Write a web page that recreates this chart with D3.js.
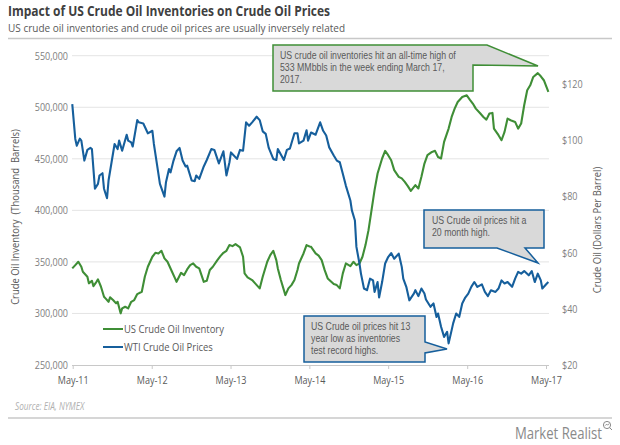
<!DOCTYPE html>
<html>
<head>
<meta charset="utf-8">
<script src="https://cdnjs.cloudflare.com/ajax/libs/d3/7.8.5/d3.min.js"></script>
<style>
  body { margin: 0; background: #fff; }
  svg { display: block; font-family: "Open Sans", sans-serif; }
</style>
</head>
<body>
<svg id="chart" width="620" height="445"></svg>
<script>
// weekly series, week 0 = 2011-04-29
const startDate = new Date(2011, 3, 29);

const invWeek = [
  0, 2, 4, 6, 7, 10, 11, 13, 14, 16,
  17, 19, 21, 22, 24, 25, 27, 29, 30, 32,
  33, 35, 37, 39, 41, 43, 46, 48, 50, 53,
  55, 57, 59, 61, 63, 66, 68, 69, 72, 74,
  76, 78, 80, 82, 84, 87, 89, 91, 93, 96,
  98, 100, 102, 104, 106, 108, 111, 113, 114, 116,
  119, 121, 124, 126, 129, 131, 133, 135, 136, 138,
  141, 143, 145, 147, 149, 150, 153, 155, 157, 158,
  161, 163, 165, 167, 169, 173, 175, 177, 179, 181,
  184, 186, 188, 190, 192, 194, 196, 198, 200, 202,
  205, 207, 209, 211, 213, 216, 218, 220, 222, 224,
  227, 229, 231, 233, 235, 238, 240, 242, 244, 246,
  249, 251, 253, 255, 258, 261, 263, 265, 267, 270,
  272, 274, 276, 278, 279, 282, 284, 286, 288, 290,
  293, 295, 297, 299, 301, 303, 305, 308, 310, 312,
  315
];
// thousand barrels
const invLevel = [
  343700, 346900, 350100, 345300, 340400, 335600, 329200, 331700, 326500, 330700,
  333000, 325900, 316200, 314600, 311300, 315600, 313000, 309800, 311300, 300100,
  304900, 306500, 304900, 311300, 313000, 318800, 321000, 335600, 345300, 355000,
  358800, 358200, 360800, 353400, 350100, 340400, 334000, 330700, 339400, 337200,
  342700, 346900, 348500, 345300, 343700, 330700, 331700, 342100, 345300, 351700,
  355600, 358800, 360800, 366300, 365300, 367200, 364000, 355000, 338900, 335000,
  332400, 329200, 324300, 335600, 350100, 356600, 360800, 351700, 343700, 332400,
  317800, 324300, 327500, 332400, 342100, 348500, 358200, 366300, 365000, 364600,
  358200, 356000, 351700, 342000, 334000, 328500, 327500, 324300, 338900, 348500,
  345900, 350100, 346900, 348500, 355000, 366300, 380800, 400200, 419600, 435800,
  450300, 457700, 453500, 448600, 439000, 432500, 431000, 427600, 423500, 418900,
  424400, 421200, 432500, 445400, 453500, 456700, 457700, 451800, 450300, 466400,
  479300, 490600, 498700, 505100, 510000, 511600, 507500, 503600, 498700, 493900,
  490600, 488000, 493900, 494500, 479300, 472900, 468000, 476100, 489000, 487400,
  485800, 479300, 484200, 501900, 516500, 521300, 529400, 533100, 530000, 526200,
  514800
];

const wtiWeek = [
  0, 2, 3, 5, 6, 8, 10, 12, 13, 15,
  17, 18, 20, 21, 23, 24, 26, 28, 30, 31,
  33, 36, 37, 39, 40, 43, 44, 47, 50, 53,
  54, 56, 58, 61, 62, 64, 65, 67, 69, 71,
  73, 75, 76, 79, 81, 82, 84, 87, 89, 92,
  94, 97, 100, 102, 104, 105, 109, 111, 113, 115,
  117, 119, 122, 124, 126, 128, 130, 133, 135, 136,
  140, 142, 144, 147, 149, 150, 153, 155, 156, 158,
  161, 164, 166, 168, 170, 173, 175, 177, 179, 181,
  184, 185, 187, 188, 190, 191, 193, 195, 197, 199,
  200, 202, 203, 205, 207, 209, 211, 213, 216, 218,
  219, 221, 223, 226, 227, 229, 231, 233, 234, 237,
  239, 241, 242, 244, 246, 248, 249, 251, 252, 254,
  256, 258, 260, 262, 264, 266, 268, 271, 273, 275,
  277, 280, 282, 284, 286, 288, 291, 293, 295, 297,
  299, 302, 304, 306, 308, 310, 311, 314, 315
];
// dollars per barrel
const wtiPrice = [
  112.8, 100.4, 98, 100.5, 99.8, 92.7, 96.5, 97.2, 96.8, 82.7,
  84.4, 87.4, 88.2, 82.7, 79.3, 85.6, 92.1, 98.6, 96.8, 99.8,
  96.2, 101.9, 99.8, 99.2, 97.7, 107.1, 106.3, 105.9, 102.4, 103.3,
  98.6, 91.5, 84.4, 79.9, 85, 89.7, 88.5, 92.7, 96, 97.2,
  92.7, 90.6, 90.9, 85.6, 85.4, 87.4, 86.2, 90.6, 92.9, 96.8,
  96.5, 91.7, 96, 87.4, 92.1, 95.6, 93.3, 96.5, 96.2, 106.3,
  105.1, 106.3, 108.3, 107.1, 103.1, 102.2, 97.2, 93.3, 92.9, 96.8,
  92.9, 96.5, 97, 102.4, 102.4, 98.8, 99.8, 103.5, 99.8, 102.7,
  101.9, 106.3, 103.3, 101.6, 97.4, 94.5, 92.7, 92.1, 88, 83.8,
  78.5, 75, 71.4, 62, 56.1, 52.5, 47.2, 46.6, 50.7, 50.1,
  46, 49.5, 44, 49.5, 56.1, 58.4, 59.8, 57.8, 59.6, 54.9,
  50.7, 47.8, 43, 45.4, 46.6, 44.5, 47.2, 45.4, 43.3, 40.7,
  41.9, 37.1, 38.3, 33.6, 30, 31.8, 27.7, 32.4, 34.8, 38.3,
  37.1, 41.9, 44, 45.4, 47.8, 49.5, 47.8, 48.7, 46, 44.5,
  46.6, 46, 47.2, 50.1, 49, 49.5, 47.8, 50.7, 53.1, 52.5,
  53.4, 51.9, 53.4, 49.5, 52.5, 50.1, 47.2, 49, 49.5
];

const tickYears = [2011, 2012, 2013, 2014, 2015, 2016, 2017];
const invTicks = [250000, 300000, 350000, 400000, 450000, 500000, 550000];
const priceTicks = [20, 40, 60, 80, 100, 120];

const GREEN = '#3f8e36',
      BLUE = '#165f9c',
      GRID = '#e4e4e4',
      TEXT = '#595959',
      TICK = '#7f7f7f';

const svg = d3.select('#chart');
const dateOf = (w) => d3.timeDay.offset(startDate, 7 * w);

const x = d3.scaleTime()
  .domain([new Date(2011, 4, 1), new Date(2017, 4, 1)])
  .range([72.7, 546]);
const yInv = d3.scaleLinear().domain([250000, 550000]).range([365, 55.7]);
const yPrice = d3.scaleLinear().domain([20, 130]).range([365, 55.7]);

// squeeze text to look like the narrow face used in the original
function condense(sel, k) {
  sel.each(function () {
    const w = this.getComputedTextLength();
    d3.select(this).attr('textLength', w * k).attr('lengthAdjust', 'spacingAndGlyphs');
  });
}

// header
svg.append('text')
  .attr('x', 8).attr('y', 16)
  .attr('font-size', 13.5).attr('font-weight', 700).attr('fill', '#404040')
  .text('Impact of US Crude Oil Inventories on Crude Oil Prices')
  .attr('textLength', 322).attr('lengthAdjust', 'spacingAndGlyphs');
svg.append('text')
  .attr('x', 8).attr('y', 32)
  .attr('font-size', 11.5).attr('fill', TEXT)
  .text('US crude oil inventories and crude oil prices are usually inversely related')
  .attr('textLength', 337).attr('lengthAdjust', 'spacingAndGlyphs');
svg.append('line')
  .attr('x1', 8).attr('x2', 612).attr('y1', 38.5).attr('y2', 38.5)
  .attr('stroke', '#c8c8c8').attr('stroke-width', 1.5);

// grid
svg.append('g')
  .selectAll('line')
  .data(invTicks.slice(1))
  .enter().append('line')
  .attr('x1', 72).attr('x2', 549)
  .attr('y1', (d) => yInv(d)).attr('y2', (d) => yInv(d))
  .attr('stroke', GRID).attr('stroke-width', 1);

// left axis
const gLeft = svg.append('g')
  .attr('transform', 'translate(68,0)')
  .call(d3.axisLeft(yInv).tickValues(invTicks).tickSize(0).tickPadding(0).tickFormat(d3.format(',')));
gLeft.select('.domain').remove();
gLeft.selectAll('text').attr('fill', TICK).attr('font-size', 11).attr('font-family', '"Open Sans", sans-serif');

// right axis
const gRight = svg.append('g')
  .attr('transform', 'translate(562,0)')
  .call(d3.axisRight(yPrice).tickValues(priceTicks).tickSize(0).tickPadding(0).tickFormat((d) => '$' + d));
gRight.select('.domain').remove();
gRight.selectAll('text').attr('fill', TICK).attr('font-size', 11).attr('font-family', '"Open Sans", sans-serif');

// bottom axis
const gBottom = svg.append('g')
  .attr('transform', 'translate(0,365)')
  .call(d3.axisBottom(x)
    .tickValues(tickYears.map((yr) => new Date(yr, 4, 1)))
    .tickSize(4).tickSizeOuter(0).tickPadding(7)
    .tickFormat(d3.timeFormat('%b-%y')));
gBottom.select('.domain').attr('stroke', '#c8c8c8').attr('d', 'M72,0.5H549');
gBottom.selectAll('.tick line').attr('stroke', '#c8c8c8');
gBottom.selectAll('text').attr('fill', TEXT).attr('font-size', 11).attr('font-family', '"Open Sans", sans-serif');

// axis titles
svg.append('text')
  .attr('transform', 'translate(19,217) rotate(-90)')
  .attr('text-anchor', 'middle').attr('font-size', 11.5).attr('fill', TEXT)
  .attr('xml:space', 'preserve')
  .text('Crude Oil Inventory  (Thousand  Barrels)');
svg.append('text')
  .attr('transform', 'translate(601,230) rotate(-90)')
  .attr('text-anchor', 'middle').attr('font-size', 11.5).attr('fill', TEXT)
  .text('Crude Oil (Dollars Per Barrel)');

// series
const invLine = d3.line()
  .x((d, i) => x(dateOf(invWeek[i])))
  .y((d) => yInv(d));
const wtiLine = d3.line()
  .x((d, i) => x(dateOf(wtiWeek[i])))
  .y((d) => yPrice(d));

svg.append('path')
  .datum(invLevel)
  .attr('d', invLine)
  .attr('fill', 'none').attr('stroke', GREEN).attr('stroke-width', 2.1).attr('stroke-linejoin', 'round');
svg.append('path')
  .datum(wtiPrice)
  .attr('d', wtiLine)
  .attr('fill', 'none').attr('stroke', BLUE).attr('stroke-width', 2.1).attr('stroke-linejoin', 'round');

// legend
const legend = svg.append('g').attr('transform', 'translate(103,329)');
[['US Crude Oil Inventory', GREEN], ['WTI Crude Oil Prices', BLUE]].forEach(([label, color], i) => {
  legend.append('line')
    .attr('x1', 0).attr('x2', 20).attr('y1', i * 18).attr('y2', i * 18)
    .attr('stroke', color).attr('stroke-width', 2);
  legend.append('text')
    .attr('x', 21).attr('y', i * 18 + 4)
    .attr('font-size', 11.5).attr('fill', TEXT)
    .text(label);
});

// callouts: one text block per box, lines as tspans
function callout(points, color, lines, tx, ty) {
  const g = svg.append('g');
  g.append('path')
    .attr('d', 'M' + points.join('L') + 'Z')
    .attr('fill', '#d9d9d9').attr('stroke', color).attr('stroke-width', 1.5);
  const t = g.append('text')
    .attr('x', tx).attr('y', ty)
    .attr('font-family', '"Liberation Sans", Arial, sans-serif')
    .attr('font-size', 10.2).attr('fill', TEXT);
  t.selectAll('tspan')
    .data(lines)
    .enter().append('tspan')
    .attr('class', 'cl')
    .attr('x', tx)
    .attr('dy', (d, i) => (i ? 11.8 : 0))
    .text((d) => d);
  return g;
}

callout(
  [[273, 45], [487, 45], [538, 66], [473, 65], [473, 91], [273, 91]],
  GREEN,
  ['US crude oil inventories hit an all-time high of', '533 MMbbls in the week ending March 17,', '2017.'],
  280, 59
);
callout(
  [[424, 210], [544, 210], [544, 248], [525, 248], [538, 263], [497, 248], [424, 248]],
  BLUE,
  ['US Crude oil prices hit a', '20 month high.'],
  432, 224
);
callout(
  [[304, 316], [425, 316], [425, 342], [447, 349], [425, 353], [425, 362], [304, 362]],
  BLUE,
  ['US Crude oil prices hit 13', 'year low as inventories', 'test record highs.'],
  311, 330
);

// footer
svg.append('text')
  .attr('x', 15).attr('y', 410)
  .attr('font-size', 10).attr('font-style', 'italic').attr('fill', '#b0b0b0')
  .text('Source: EIA, NYMEX');
svg.append('line')
  .attr('x1', 8).attr('x2', 612).attr('y1', 418).attr('y2', 418)
  .attr('stroke', '#c8c8c8').attr('stroke-width', 1.5);
svg.append('text')
  .attr('x', 602).attr('y', 439)
  .attr('text-anchor', 'end')
  .attr('font-size', 16).attr('fill', '#8a8a8a')
  .text('Market Realist');
const logo = svg.append('g').attr('transform', 'translate(607,425)')
  .attr('fill', 'none').attr('stroke', '#8a8a8a').attr('stroke-width', 1);
logo.append('circle').attr('r', 3.6);
logo.append('line').attr('x1', 2.6).attr('y1', 2.6).attr('x2', 5).attr('y2', 5);
logo.append('path').attr('d', 'M-1.8,0.6L-0.4,-0.8L0.6,0.2L2,-1.4');

// narrow face for all the text not already fitted
condense(svg.selectAll('tspan.cl'), 0.86);
condense(svg.selectAll('text:not([textLength])').filter(function () { return !this.querySelector('tspan'); }), 0.82);
</script>
</body>
</html>
